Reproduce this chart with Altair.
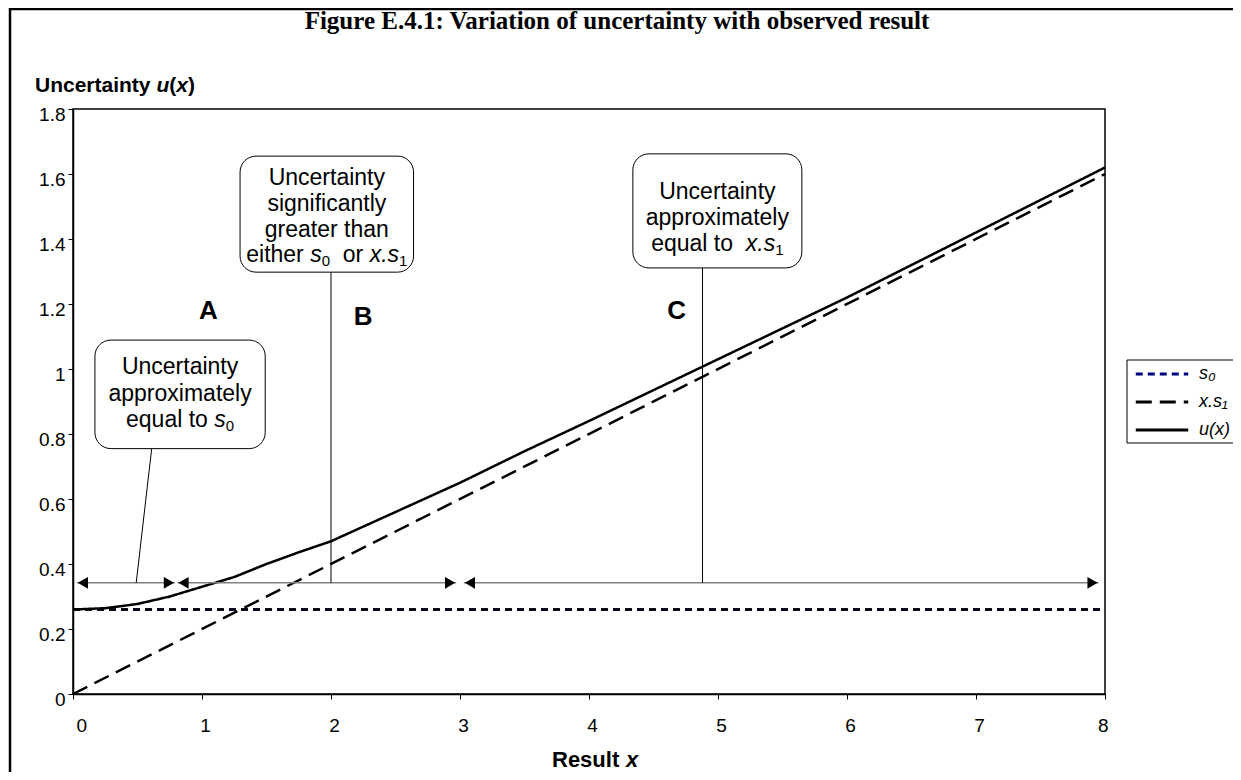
import altair as alt
import pandas as pd

# ---------------- chart values ----------------
SERIES = ["s₀", "x.s₁", "u(x)"]
SERIES_COLORS = ["#000080", "#000000", "#000000"]

line_x = [0.0, 8.0]
s0_y = [0.26, 0.26]
xs1_y = [0.0, 1.6]
u_x = [0, 0.25, 0.5, 0.75, 1, 1.25, 1.5, 1.75, 2, 2.5, 3, 3.5, 4, 5, 6, 7, 8]
u_y = [0.26, 0.264, 0.277, 0.30, 0.33, 0.36, 0.40, 0.436, 0.47, 0.56, 0.65,
       0.747, 0.84, 1.03, 1.22, 1.42, 1.62]

x_ticks = [0, 1, 2, 3, 4, 5, 6, 7, 8]
y_ticks = [0, 0.2, 0.4, 0.6, 0.8, 1.0, 1.2, 1.4, 1.6, 1.8]

region_labels = ["A", "B", "C"]
region_label_x = [1.05, 2.25, 4.68]
region_label_y = [1.18, 1.16, 1.18]

range_start = [0.03, 0.81, 3.03]
range_end = [0.79, 2.97, 7.95]
range_y = [0.342, 0.342, 0.342]

box_x1 = [0.17, 1.295, 4.34]
box_x2 = [1.49, 2.64, 5.65]
box_y1 = [0.755, 1.298, 1.311]
box_y2 = [1.089, 1.655, 1.662]

callout_x1 = [0.61, 2.0, 4.88]
callout_y1 = [0.755, 1.298, 1.311]
callout_x2 = [0.49, 2.0, 4.88]
callout_y2 = [0.342, 0.342, 0.342]

# text lines of the three call-out boxes: (segment text, kind) where kind is
# n = normal, i = italic, s = subscript
box_lines = [
    [[("Uncertainty", "n")], [("approximately", "n")],
     [("equal to ", "n"), ("s", "i"), ("0", "s")]],
    [[("Uncertainty", "n")], [("significantly", "n")], [("greater than", "n")],
     [("either ", "n"), ("s", "i"), ("0", "s"), ("  or ", "n"), ("x.s", "i"), ("1", "s")]],
    [[("Uncertainty", "n")], [("approximately", "n")],
     [("equal to  ", "n"), ("x.s", "i"), ("1", "s")]],
]
box_line_y = [[1.006, 0.924, 0.842], [1.587, 1.507, 1.428, 1.350], [1.545, 1.465, 1.385]]

# ---------------- layout ----------------
W, H = 1032, 585
XMAX, YMAX = 8, 1.8
PXU = W / XMAX
FONT = "Liberation Sans"
BOX_FS = 23
SUB_FS = 15

AW = {" ": 278, "a": 556, "b": 556, "c": 500, "d": 556, "e": 556, "f": 278, "g": 556,
      "h": 556, "i": 222, "l": 222, "m": 833, "n": 556, "o": 556, "p": 556, "q": 556,
      "r": 333, "s": 500, "t": 278, "u": 556, "x": 500, "y": 500, ".": 278, "U": 722,
      "0": 556, "1": 556}


def tw(s, size):
    return sum(AW.get(c, 556) for c in s) * size / 1000.0


# segment table for box texts (positions in data units)
seg_rows = []
for b, lines in enumerate(box_lines):
    cx_px = (box_x1[b] + box_x2[b]) / 2 * PXU
    for li, segs in enumerate(lines):
        widths = [tw(t, SUB_FS if k == "s" else BOX_FS) for t, k in segs]
        start = cx_px - sum(widths) / 2
        for (t, k), w in zip(segs, widths):
            lead = len(t) - len(t.lstrip(" "))
            fs = SUB_FS if k == "s" else BOX_FS
            seg_rows.append({"x": (start + tw(" " * lead, fs)) / PXU,
                             "y": box_line_y[b][li], "text": t.strip(), "kind": k})
            start += w
seg_df = pd.DataFrame(seg_rows)

line_df = pd.concat([
    pd.DataFrame({"x": line_x, "y": s0_y, "series": SERIES[0]}),
    pd.DataFrame({"x": line_x, "y": xs1_y, "series": SERIES[1]}),
    pd.DataFrame({"x": u_x, "y": u_y, "series": SERIES[2]}),
])
s0_df = pd.DataFrame({"x": line_x, "y": s0_y})
label_df = pd.DataFrame({"x": region_label_x, "y": region_label_y, "text": region_labels})
range_df = pd.DataFrame({"x": range_start, "x2": range_end, "y": range_y})
box_df = pd.DataFrame({"x": box_x1, "x2": box_x2, "y": box_y1, "y2": box_y2})
call_df = pd.DataFrame({"x": callout_x1, "y": callout_y1, "x2": callout_x2, "y2": callout_y2})

XS = alt.Scale(domain=[0, XMAX], nice=False, zero=False)
YS = alt.Scale(domain=[0, YMAX], nice=False, zero=False)
XAX = alt.Axis(values=x_ticks, format="d", labelPadding=17, labelOffset=3, title=None)
YAX = alt.Axis(values=y_ticks, format="~g", labelPadding=3, labelOffset=5, title=None)


def X(f="x"):
    return alt.X(f"{f}:Q", scale=XS, axis=XAX, title=None)


def Y(f="y"):
    return alt.Y(f"{f}:Q", scale=YS, axis=YAX, title=None)


DASHES = [[7, 5], [16, 8], [1, 0]]
leg = alt.Legend(title=None, orient="none", legendX=1080, legendY=256, padding=0,
                 symbolType="M-5,0H5", symbolSize=110, symbolStrokeWidth=3,
                 labelFont=FONT, labelFontSize=18, labelFontStyle="italic",
                 labelColor="black", labelOffset=28, rowPadding=10)

lines = alt.Chart(line_df).mark_line(strokeWidth=2.5).encode(
    x=X(), y=Y(),
    color=alt.Color("series:N", scale=alt.Scale(domain=SERIES, range=SERIES_COLORS),
                    legend=leg, sort=SERIES),
    strokeDash=alt.StrokeDash("series:N", scale=alt.Scale(domain=SERIES, range=DASHES),
                              legend=leg, sort=SERIES),
    detail="series:N",
)
# in the plot the s0 line is drawn black (the legend key stays navy)
s0_black = alt.Chart(s0_df).mark_line(strokeWidth=2.6, color="black",
                                      strokeDash=DASHES[0]).encode(x=X(), y=Y())

range_rules = alt.Chart(range_df).mark_rule(color="#808080", strokeWidth=1.5).encode(
    x=X(), x2="x2:Q", y=Y())
left_heads = alt.Chart(range_df).mark_point(shape="triangle-left", filled=True, size=140,
                                             color="black", opacity=1, xOffset=6).encode(
    x=X(), y=Y())
right_heads = alt.Chart(range_df).mark_point(shape="triangle-right", filled=True, size=140,
                                              color="black", opacity=1, xOffset=-6).encode(
    x=X("x2"), y=Y())

callouts = alt.Chart(call_df).mark_rule(color="black", strokeWidth=1).encode(
    x=X(), y=Y(), x2="x2:Q", y2="y2:Q")

boxes = alt.Chart(box_df).mark_rect(fill="white", stroke="black", strokeWidth=1,
                                    cornerRadius=16).encode(
    x=X(), x2="x2:Q", y=Y(), y2="y2:Q")

letters = alt.Chart(label_df).mark_text(font=FONT, fontSize=26, fontWeight="bold",
                                        color="black").encode(x=X(), y=Y(), text="text:N")


def seg_layer(kind, **kw):
    return alt.Chart(seg_df).transform_filter(alt.datum.kind == kind).mark_text(
        align="left", baseline="middle", font=FONT, color="black", **kw).encode(
        x=X(), y=Y(), text="text:N")


seg_n = seg_layer("n", fontSize=BOX_FS)
seg_i = seg_layer("i", fontSize=BOX_FS, fontStyle="italic")
seg_s = seg_layer("s", fontSize=SUB_FS, dy=6)

one = pd.DataFrame({"k": [0]})


def deco_text(txt, x, y, **kw):
    return alt.Chart(one).mark_text(text=txt, align="left", baseline="middle",
                                    font=FONT, color="black", **kw).encode(
        x=alt.value(x), y=alt.value(y))


frame = alt.Chart(one).mark_rect(fillOpacity=0, stroke="black", strokeWidth=2.5).encode(
    x=alt.value(-63), x2=alt.value(1400), y=alt.value(-100), y2=alt.value(900))
legend_frame = alt.Chart(one).mark_rect(fillOpacity=0, stroke="black", strokeWidth=1).encode(
    x=alt.value(1054), x2=alt.value(1400), y=alt.value(251), y2=alt.value(334))

title = alt.Chart(one).mark_text(
    text="Figure E.4.1: Variation of uncertainty with observed result",
    font="Liberation Serif", fontSize=25, fontWeight="bold", color="black",
    align="center", baseline="middle").encode(x=alt.value(544), y=alt.value(-88))

TF = 21
yt0 = -38
yt_u = yt0 + 121.4
YTY = -23
ytitle = [
    deco_text("Uncertainty", yt0, YTY, fontSize=TF, fontWeight="bold"),
    deco_text("u", yt_u, YTY, fontSize=TF, fontWeight="bold", fontStyle="italic"),
    deco_text("(", yt_u + 12.8, YTY, fontSize=TF, fontWeight="bold"),
    deco_text("x", yt_u + 19.8, YTY, fontSize=TF, fontWeight="bold", fontStyle="italic"),
    deco_text(")", yt_u + 31.5, YTY, fontSize=TF, fontWeight="bold"),
]
XF = 22
xt0 = W / 2 + 8 - 45
xtitle = [
    deco_text("Result", xt0, 651, fontSize=XF, fontWeight="bold"),
    deco_text("x", xt0 + 74, 651, fontSize=XF, fontWeight="bold", fontStyle="italic"),
]

chart = alt.layer(
    lines, s0_black, range_rules, left_heads, right_heads, callouts, boxes, letters,
    seg_n, seg_i, seg_s, frame, legend_frame, title, *ytitle, *xtitle,
).properties(
    width=W, height=H,
    autosize=alt.AutoSizeParams(type="none"),
    padding={"left": 65, "top": 101, "right": 128, "bottom": 78},
).configure_view(
    stroke="black", strokeWidth=1.5
).configure_axis(
    domainColor="black", domainWidth=1.5, tickColor="black", tickWidth=1, tickSize=5,
    labelFont=FONT, labelFontSize=19, labelColor="black", grid=False,
)

chart.save("out.html", embed_options={"renderer": "svg", "actions": False})
